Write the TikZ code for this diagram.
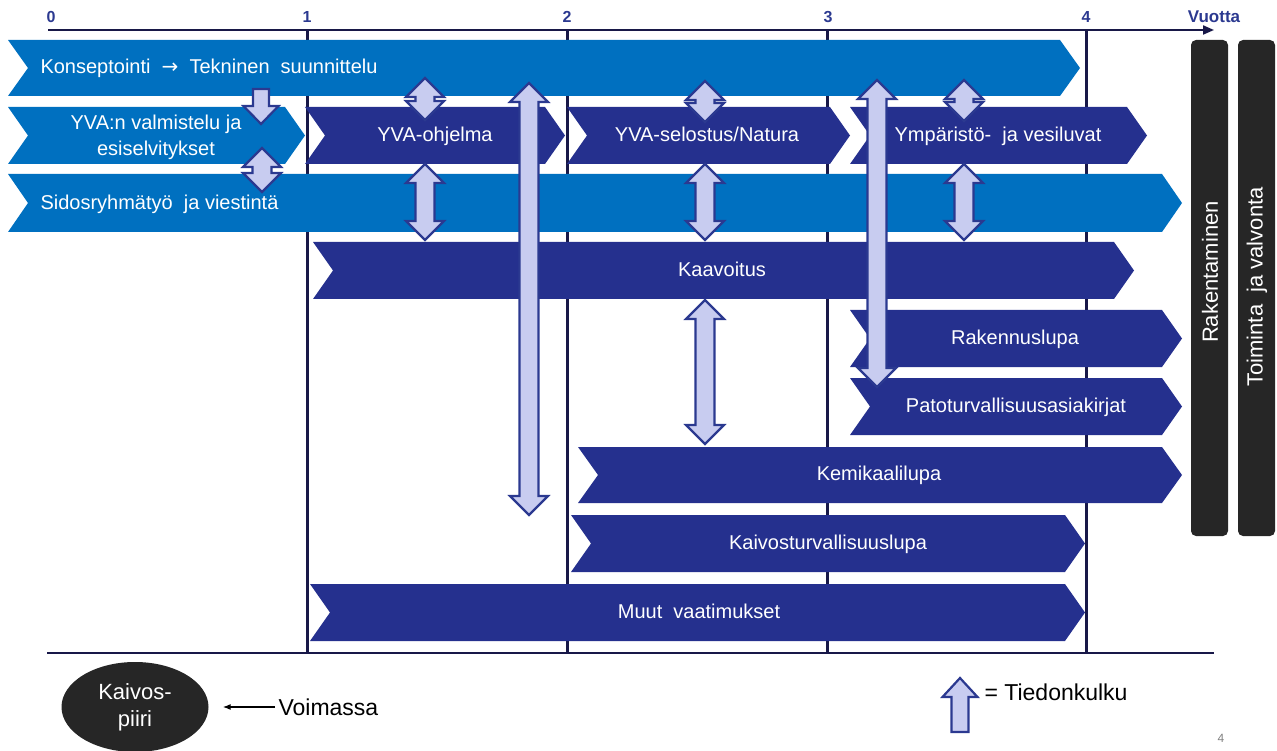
\documentclass[tikz,border=0pt]{standalone}
\usepackage{fontspec}
\setmainfont{Liberation Sans}
\newfontfamily\symfont{DejaVu Sans}
\usetikzlibrary{arrows.meta,positioning,shapes.geometric}
\definecolor{kvLight}{RGB}{  0,112,192}
\definecolor{kvDark} {RGB}{ 37, 48,142}
\definecolor{kvLine} {RGB}{ 24, 24, 72}
\definecolor{kvAxis} {RGB}{ 43, 57,144}
\definecolor{kvFlow} {RGB}{200,204,240}
\definecolor{kvBar}  {RGB}{ 38, 38, 38}
% chevron band: colour, left x, tip x, top y, bottom y
\newcommand{\chevbar}[5]{%
  \fill[#1] (#2,#4) -- ({#3-20},#4) -- (#3,{(#4+#5)/2}) -- ({#3-20},#5)
    -- (#2,#5) -- ({#2+20},{(#4+#5)/2}) -- cycle;}
% two-headed flow arrow: centre x, top y, bottom y
\newcommand{\flowarrow}[3]{%
  \filldraw[flow] (#1,#2) -- ++(19,19) -- ++(-9.5,0) -- ({#1+9.5},{#3-19})
    -- ++(9.5,0) -- (#1,#3) -- ++(-19,-19) -- ++(9.5,0)
    -- ({#1-9.5},{#2+19}) -- ++(-9.5,0) -- cycle;}

\begin{document}
\begin{tikzpicture}[x=1pt,y=-1pt,
  every node/.style={font=\fontsize{20}{26}\selectfont},
  ax/.style={-{Triangle[length=11pt,width=9pt]},line width=2pt,kvLine},
  grid/.style={line width=3pt,kvLine},
  yr/.style={font=\fontsize{16}{18}\selectfont\bfseries,kvAxis},
  band/.style={text=white,text height=14.5pt,text depth=4pt},
  flow/.style={fill=kvFlow,draw=kvAxis,line width=2.2pt,line join=miter},
  vbar/.style={fill=kvBar,rounded corners=5pt},
  vtxt/.style={text=white,rotate=90,font=\fontsize{22}{26}\selectfont},
  big/.style={font=\fontsize{23}{27}\selectfont}
]
\useasboundingbox (0,0) rectangle (1277,751);

% time axis
\coordinate (ax0) at (48,30);
\coordinate (axend) at (1214,30);
\foreach \x in {307,567,827,1086}
  \draw[grid] (\x,30) -- (\x,653);
\draw[ax] (ax0) -- (axend);
\draw[line width=2.5pt,kvLine] (47,653) -- (1214,653);
\node[yr] (y0) at (51,17) {0};
\node[yr] (y1) at (307,17) {1};
\node[yr] (y2) at (567,17) {2};
\node[yr] (y3) at (828,17) {3};
\node[yr] (y4) at (1086,17) {4};
\node[yr,font=\fontsize{17}{18}\selectfont\bfseries] (vuotta) at (1214,17) {Vuotta};

% bands
\chevbar{kvLight}{8}{1080}{40}{96}
\chevbar{kvLight}{8}{305}{107}{164}
\chevbar{kvLight}{8}{1182}{174}{232}
\chevbar{kvDark}{305}{565}{107}{164}
\chevbar{kvDark}{567}{850}{107}{164}
\chevbar{kvDark}{850}{1147}{107}{164}
\chevbar{kvDark}{313}{1134}{242}{299}
\chevbar{kvDark}{850}{1182}{310}{367}
\chevbar{kvDark}{850}{1182}{378}{435}
\chevbar{kvDark}{578}{1182}{447}{503}
\chevbar{kvDark}{571}{1085}{515}{572}
\chevbar{kvDark}{310}{1085}{584}{641}

\node[band,anchor=west] (kons) at (37,68) {Konseptointi \ {\symfont →} \ Tekninen \ suunnittelu};
\node[text=white,align=center] (yvaval) at (156,137) {YVA:n valmistelu ja\\esiselvitykset};
\node[band,anchor=west] (sidos) at (37,204) {Sidosryhmätyö \ ja viestintä};
\node[band] (yvaohj) at (435,136) {YVA-ohjelma};
\node[band] (yvasel) at (707,136) {YVA-selostus/Natura};
\node[band] (ymp) at (998,136) {Ympäristö- \ ja vesiluvat};
\node[band] (kaav) at (722,271) {Kaavoitus};
\node[band] (rak) at (1015,339) {Rakennuslupa};
\node[band] (pato) at (1016,407) {Patoturvallisuusasiakirjat};
\node[band] (kemi) at (879,475) {Kemikaalilupa};
\node[band] (kaivturv) at (828,544) {Kaivosturvallisuuslupa};
\node[band] (muut) at (699,613) {Muut \ vaatimukset};

% construction and operation
\fill[vbar] (1191,40) rectangle (1228,536);
\fill[vbar] (1238,40) rectangle (1275,536);
\node[vtxt] (raken) at (1210,272) {Rakentaminen};
\node[vtxt] (toim) at (1257,287) {Toiminta \ ja valvonta};

% information flow
\flowarrow{425}{78}{120}
\flowarrow{705}{81}{122}
\flowarrow{964}{80}{121}
\flowarrow{262}{148}{192}
\flowarrow{425}{164}{240}
\flowarrow{705}{164}{240}
\flowarrow{964}{164}{240}
\flowarrow{705}{300}{444}
\flowarrow{529}{83}{515}
\flowarrow{877}{80}{387}
\filldraw[flow] (253,89) -- (269,89) -- (269,106) -- (278.5,106) -- (261,124)
  -- (243.5,106) -- (253,106) -- cycle;

% legend
\node[ellipse,fill=kvBar,minimum width=147pt,minimum height=90pt,inner sep=0pt,
  text=white,align=center,font=\fontsize{22}{27}\selectfont] (kaivos) at (135,707) {Kaivos-\\piiri};
\node[big,anchor=west] (voim) at (275,707) {Voimassa};
\draw[-{Latex[length=8pt,width=6pt]},line width=1.2pt] (voim.west) -- ([xshift=14pt]kaivos.east);
\filldraw[flow] (960,678) -- (977.5,697) -- (968.5,697) -- (968.5,732)
  -- (951.5,732) -- (951.5,697) -- (942.5,697) -- cycle;
\node[big,anchor=west] (tiedon) at (981,692) {= Tiedonkulku};
\node[text=gray,font=\fontsize{12}{14}\selectfont] (pagenum) at (1221,738) {4};
\end{tikzpicture}
\end{document}
